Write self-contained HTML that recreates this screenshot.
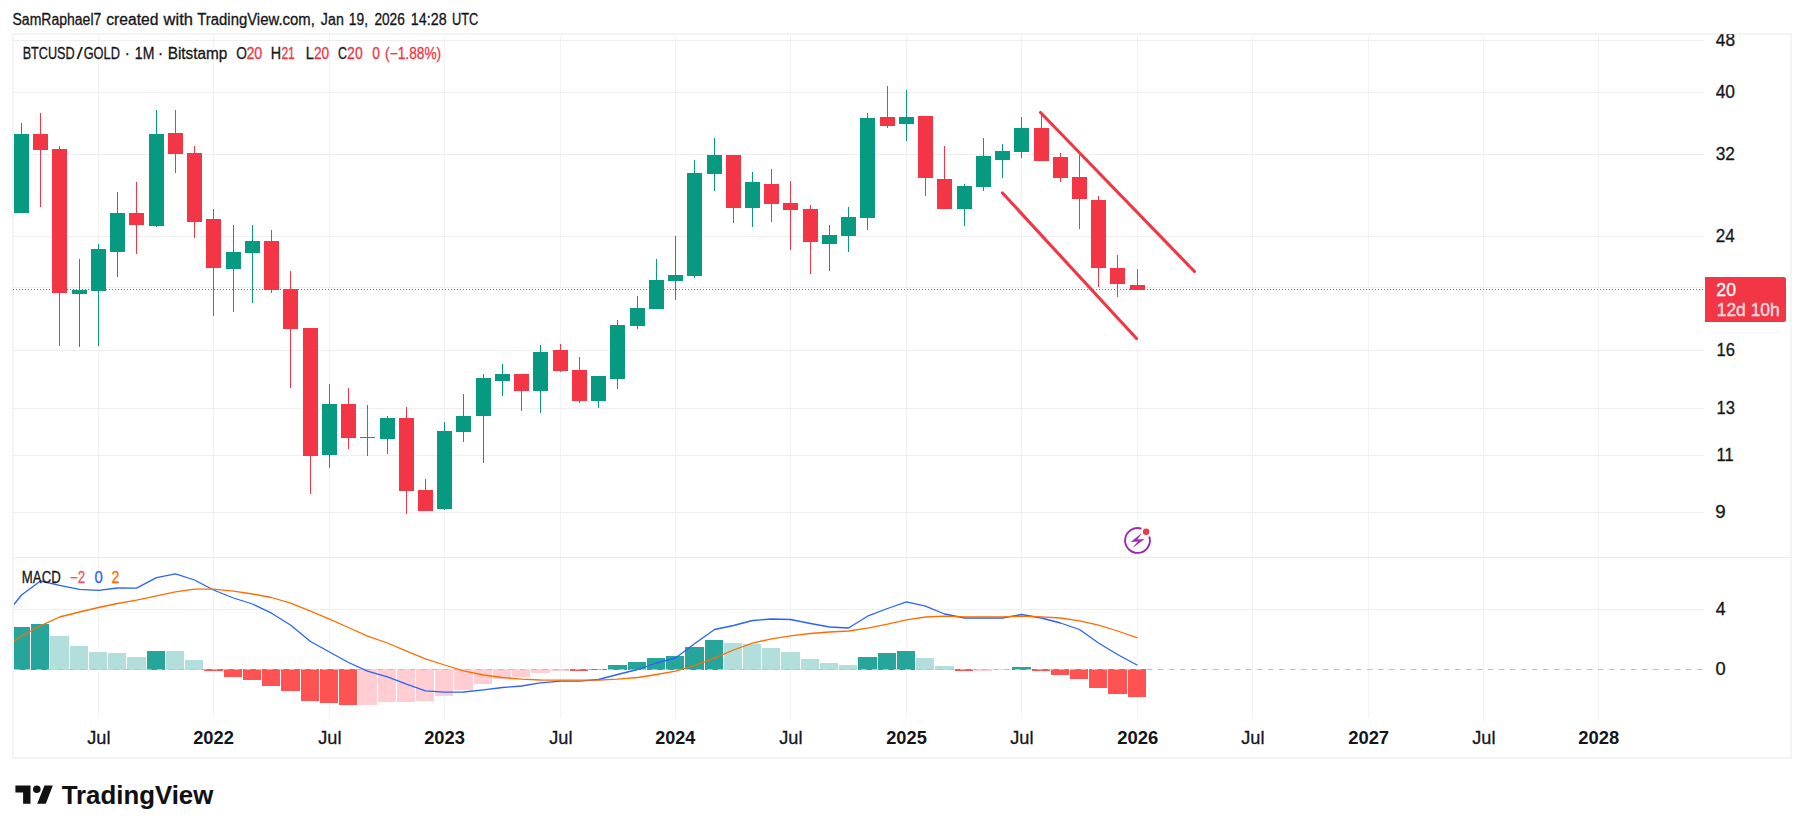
<!DOCTYPE html>
<html lang="en"><head><meta charset="utf-8"><title>BTCUSD/GOLD chart</title>
<style>html,body{margin:0;padding:0;background:#fff}body{width:1804px;height:833px;overflow:hidden}svg{display:block}text{font-family:"Liberation Sans","DejaVu Sans",sans-serif;fill:#14151A;stroke:#14151A;stroke-width:.3px;paint-order:stroke}</style></head><body>
<svg width="1804" height="833" viewBox="0 0 1804 833">
<rect width="1804" height="833" fill="#fff"/>
<g shape-rendering="crispEdges">
<rect x="98" y="35" width="1" height="683" fill="#F3F3F4"/>
<rect x="213" y="35" width="1" height="683" fill="#F3F3F4"/>
<rect x="329" y="35" width="1" height="683" fill="#F3F3F4"/>
<rect x="444" y="35" width="1" height="683" fill="#F3F3F4"/>
<rect x="560" y="35" width="1" height="683" fill="#F3F3F4"/>
<rect x="675" y="35" width="1" height="683" fill="#F3F3F4"/>
<rect x="790" y="35" width="1" height="683" fill="#F3F3F4"/>
<rect x="906" y="35" width="1" height="683" fill="#F3F3F4"/>
<rect x="1021" y="35" width="1" height="683" fill="#F3F3F4"/>
<rect x="1137" y="35" width="1" height="683" fill="#F3F3F4"/>
<rect x="1252" y="35" width="1" height="683" fill="#F3F3F4"/>
<rect x="1368" y="35" width="1" height="683" fill="#F3F3F4"/>
<rect x="1483" y="35" width="1" height="683" fill="#F3F3F4"/>
<rect x="1598" y="35" width="1" height="683" fill="#F3F3F4"/>
<rect x="14" y="40" width="1690" height="1" fill="#EEEEEF"/>
<rect x="14" y="92" width="1690" height="1" fill="#EEEEEF"/>
<rect x="14" y="154" width="1690" height="1" fill="#EEEEEF"/>
<rect x="14" y="236" width="1690" height="1" fill="#EEEEEF"/>
<rect x="14" y="287" width="1690" height="1" fill="#EEEEEF"/>
<rect x="14" y="350" width="1690" height="1" fill="#EEEEEF"/>
<rect x="14" y="408" width="1690" height="1" fill="#EEEEEF"/>
<rect x="14" y="455" width="1690" height="1" fill="#EEEEEF"/>
<rect x="14" y="512" width="1690" height="1" fill="#EEEEEF"/>
<rect x="14" y="609" width="1690" height="1" fill="#EEEEEF"/>
<rect x="14" y="557" width="1777" height="1" fill="#EDEDEE"/>
<rect x="12" y="33" width="1780" height="2" fill="#F4F4F5"/>
<rect x="12" y="757" width="1780" height="2" fill="#F4F4F5"/>
<rect x="12" y="33" width="2" height="726" fill="#F4F4F5"/>
<rect x="1790" y="33" width="2" height="726" fill="#F4F4F5"/>
</g>
<g shape-rendering="crispEdges">
<rect x="14" y="627" width="16" height="43" fill="#26A69A"/>
<rect x="31" y="624" width="18" height="46" fill="#26A69A"/>
<rect x="50" y="636" width="19" height="34" fill="#B2DFDB"/>
<rect x="70" y="646" width="18" height="24" fill="#B2DFDB"/>
<rect x="89" y="652" width="18" height="18" fill="#B2DFDB"/>
<rect x="108" y="653" width="18" height="17" fill="#B2DFDB"/>
<rect x="127" y="657" width="19" height="13" fill="#B2DFDB"/>
<rect x="147" y="651" width="18" height="19" fill="#26A69A"/>
<rect x="166" y="651" width="18" height="19" fill="#B2DFDB"/>
<rect x="185" y="660" width="18" height="10" fill="#B2DFDB"/>
<rect x="204" y="669" width="19" height="2" fill="#FF5252"/>
<rect x="224" y="669" width="18" height="8" fill="#FF5252"/>
<rect x="243" y="669" width="18" height="11" fill="#FF5252"/>
<rect x="262" y="669" width="18" height="17" fill="#FF5252"/>
<rect x="281" y="669" width="19" height="22" fill="#FF5252"/>
<rect x="301" y="669" width="18" height="32" fill="#FF5252"/>
<rect x="320" y="669" width="18" height="34" fill="#FF5252"/>
<rect x="339" y="669" width="18" height="36" fill="#FF5252"/>
<rect x="358" y="669" width="19" height="36" fill="#FFCDD2"/>
<rect x="378" y="669" width="18" height="33" fill="#FFCDD2"/>
<rect x="397" y="669" width="18" height="33" fill="#FFCDD2"/>
<rect x="416" y="669" width="18" height="32" fill="#FFCDD2"/>
<rect x="435" y="669" width="18" height="27" fill="#FFCDD2"/>
<rect x="454" y="669" width="19" height="21" fill="#FFCDD2"/>
<rect x="474" y="669" width="18" height="15" fill="#FFCDD2"/>
<rect x="493" y="669" width="18" height="10.25" fill="#FFCDD2"/>
<rect x="512" y="669" width="18" height="8" fill="#FFCDD2"/>
<rect x="531" y="669" width="19" height="3.5" fill="#FFCDD2"/>
<rect x="551" y="669" width="18" height="2" fill="#FFCDD2"/>
<rect x="570" y="669" width="18" height="2" fill="#FF5252"/>
<rect x="589" y="668.75" width="18" height="1.25" fill="#26A69A"/>
<rect x="608" y="665" width="19" height="5" fill="#26A69A"/>
<rect x="628" y="662" width="18" height="8" fill="#26A69A"/>
<rect x="647" y="658" width="18" height="12" fill="#26A69A"/>
<rect x="666" y="656" width="18" height="14" fill="#26A69A"/>
<rect x="685" y="647" width="19" height="23" fill="#26A69A"/>
<rect x="705" y="640" width="18" height="30" fill="#26A69A"/>
<rect x="724" y="643" width="18" height="27" fill="#B2DFDB"/>
<rect x="743" y="644" width="18" height="26" fill="#B2DFDB"/>
<rect x="762" y="648" width="18" height="22" fill="#B2DFDB"/>
<rect x="781" y="652" width="19" height="18" fill="#B2DFDB"/>
<rect x="801" y="659" width="18" height="11" fill="#B2DFDB"/>
<rect x="820" y="663" width="18" height="7" fill="#B2DFDB"/>
<rect x="839" y="665" width="18" height="5" fill="#B2DFDB"/>
<rect x="858" y="657" width="19" height="13" fill="#26A69A"/>
<rect x="878" y="653" width="18" height="17" fill="#26A69A"/>
<rect x="897" y="651" width="18" height="19" fill="#26A69A"/>
<rect x="916" y="658" width="18" height="12" fill="#B2DFDB"/>
<rect x="935" y="666" width="19" height="4" fill="#B2DFDB"/>
<rect x="955" y="669" width="18" height="2" fill="#FF5252"/>
<rect x="974" y="669" width="18" height="2" fill="#FFCDD2"/>
<rect x="993" y="669" width="18" height="1.3" fill="#FFCDD2"/>
<rect x="1012" y="667" width="19" height="3" fill="#26A69A"/>
<rect x="1032" y="669" width="18" height="2" fill="#FF5252"/>
<rect x="1051" y="669" width="18" height="6" fill="#FF5252"/>
<rect x="1070" y="669" width="18" height="10" fill="#FF5252"/>
<rect x="1089" y="669" width="18" height="19" fill="#FF5252"/>
<rect x="1108" y="669" width="19" height="25" fill="#FF5252"/>
<rect x="1128" y="669" width="18" height="28" fill="#FF5252"/>
</g>
<line x1="14" y1="669.5" x2="1703" y2="669.5" stroke="#BDBEC2" stroke-width="1" stroke-dasharray="5.5 5.5"/>
<clipPath id="pc"><rect x="14" y="558" width="1690" height="160"/></clipPath>
<g clip-path="url(#pc)" fill="none" stroke-width="1.3" stroke-linejoin="round">
<polyline stroke="#2962FF" points="2.3,619.0 21.5,595.0 40.5,581.0 59.5,585.3 79.5,589.4 98.5,590.3 117.5,588.0 136.5,588.2 156.5,577.7 175.5,573.8 194.5,580.0 213.5,590.0 233.5,598.0 252.5,604.0 271.5,613.2 290.5,625.0 310.5,641.5 329.5,652.0 348.5,662.5 367.5,671.2 387.5,676.8 406.5,684.2 425.5,690.8 444.5,692.2 463.5,692.0 483.5,689.8 502.5,687.5 521.5,686.0 540.5,682.8 560.5,681.2 579.5,681.2 598.5,679.5 617.5,674.5 637.5,669.5 656.5,663.0 675.5,658.0 694.5,643.8 714.5,629.5 733.5,625.5 752.5,620.5 771.5,619.0 790.5,619.5 810.5,623.5 829.5,627.0 848.5,628.0 867.5,616.2 887.5,608.5 906.5,601.8 925.5,606.2 944.5,614.0 964.5,618.0 983.5,618.0 1002.5,618.0 1021.5,614.5 1041.5,618.0 1060.5,623.0 1079.5,629.5 1098.5,643.0 1117.5,654.5 1137.5,665.2"/>
<polyline stroke="#FF6D00" points="2.3,648.6 21.5,636.0 40.5,625.8 59.5,617.0 79.5,612.0 98.5,607.5 117.5,603.5 136.5,600.2 156.5,595.8 175.5,591.8 194.5,589.2 213.5,589.2 233.5,591.2 252.5,594.0 271.5,597.5 290.5,603.2 310.5,611.2 329.5,619.2 348.5,627.5 367.5,636.2 387.5,643.0 406.5,651.2 425.5,658.8 444.5,665.0 463.5,670.8 483.5,675.0 502.5,677.5 521.5,679.2 540.5,680.0 560.5,680.2 579.5,680.2 598.5,680.2 617.5,679.2 637.5,677.5 656.5,674.5 675.5,671.2 694.5,665.5 714.5,658.2 733.5,650.0 752.5,643.2 771.5,638.8 790.5,635.8 810.5,633.5 829.5,632.0 848.5,631.0 867.5,628.2 887.5,624.2 906.5,619.8 925.5,617.0 944.5,616.2 964.5,616.8 983.5,616.8 1002.5,616.8 1021.5,616.2 1041.5,616.8 1060.5,618.0 1079.5,620.8 1098.5,625.2 1117.5,631.0 1137.5,637.8"/>
</g>
<g shape-rendering="crispEdges">
<rect x="21" y="123" width="1" height="90" fill="#089981"/>
<rect x="14" y="134" width="15" height="79" fill="#089981"/>
<rect x="40" y="113" width="1" height="94" fill="#F23645"/>
<rect x="33" y="134" width="15" height="16" fill="#F23645"/>
<rect x="59" y="146" width="1" height="200" fill="#F23645"/>
<rect x="52" y="149" width="15" height="144" fill="#F23645"/>
<rect x="79" y="259" width="1" height="88" fill="#089981"/>
<rect x="72" y="290" width="15" height="4" fill="#089981"/>
<rect x="98" y="244" width="1" height="102" fill="#089981"/>
<rect x="91" y="249" width="15" height="42" fill="#089981"/>
<rect x="117" y="192" width="1" height="85" fill="#089981"/>
<rect x="110" y="213" width="15" height="39" fill="#089981"/>
<rect x="136" y="182" width="1" height="72" fill="#F23645"/>
<rect x="129" y="213" width="15" height="12" fill="#F23645"/>
<rect x="156" y="110" width="1" height="117" fill="#089981"/>
<rect x="149" y="134" width="15" height="92" fill="#089981"/>
<rect x="175" y="110" width="1" height="63" fill="#F23645"/>
<rect x="168" y="133" width="15" height="21" fill="#F23645"/>
<rect x="194" y="146" width="1" height="92" fill="#F23645"/>
<rect x="187" y="153" width="15" height="69" fill="#F23645"/>
<rect x="213" y="209" width="1" height="107" fill="#F23645"/>
<rect x="206" y="219" width="15" height="49" fill="#F23645"/>
<rect x="233" y="225" width="1" height="87" fill="#089981"/>
<rect x="226" y="252" width="15" height="17" fill="#089981"/>
<rect x="252" y="225" width="1" height="78" fill="#089981"/>
<rect x="245" y="241" width="15" height="12" fill="#089981"/>
<rect x="271" y="230" width="1" height="63" fill="#F23645"/>
<rect x="264" y="241" width="15" height="49" fill="#F23645"/>
<rect x="290" y="271" width="1" height="117" fill="#F23645"/>
<rect x="283" y="289" width="15" height="40" fill="#F23645"/>
<rect x="310" y="328" width="1" height="166" fill="#F23645"/>
<rect x="303" y="328" width="15" height="128" fill="#F23645"/>
<rect x="329" y="384" width="1" height="84" fill="#089981"/>
<rect x="322" y="404" width="15" height="51" fill="#089981"/>
<rect x="348" y="388" width="1" height="61" fill="#F23645"/>
<rect x="341" y="404" width="15" height="34" fill="#F23645"/>
<rect x="367" y="405" width="1" height="51" fill="#F23645"/>
<rect x="360" y="437" width="15" height="1" fill="#F23645"/>
<rect x="387" y="416" width="1" height="38" fill="#089981"/>
<rect x="380" y="418" width="15" height="21" fill="#089981"/>
<rect x="406" y="407" width="1" height="107" fill="#F23645"/>
<rect x="399" y="418" width="15" height="73" fill="#F23645"/>
<rect x="425" y="479" width="1" height="32" fill="#F23645"/>
<rect x="418" y="490" width="15" height="21" fill="#F23645"/>
<rect x="444" y="422" width="1" height="88" fill="#089981"/>
<rect x="437" y="431" width="15" height="78" fill="#089981"/>
<rect x="463" y="394" width="1" height="48" fill="#089981"/>
<rect x="456" y="416" width="15" height="16" fill="#089981"/>
<rect x="483" y="374" width="1" height="89" fill="#089981"/>
<rect x="476" y="378" width="15" height="38" fill="#089981"/>
<rect x="502" y="364" width="1" height="32" fill="#089981"/>
<rect x="495" y="374" width="15" height="7" fill="#089981"/>
<rect x="521" y="374" width="1" height="37" fill="#F23645"/>
<rect x="514" y="374" width="15" height="17" fill="#F23645"/>
<rect x="540" y="345" width="1" height="68" fill="#089981"/>
<rect x="533" y="352" width="15" height="39" fill="#089981"/>
<rect x="560" y="344" width="1" height="28" fill="#F23645"/>
<rect x="553" y="350" width="15" height="21" fill="#F23645"/>
<rect x="579" y="357" width="1" height="46" fill="#F23645"/>
<rect x="572" y="370" width="15" height="31" fill="#F23645"/>
<rect x="598" y="376" width="1" height="32" fill="#089981"/>
<rect x="591" y="376" width="15" height="25" fill="#089981"/>
<rect x="617" y="320" width="1" height="69" fill="#089981"/>
<rect x="610" y="325" width="15" height="54" fill="#089981"/>
<rect x="637" y="296" width="1" height="33" fill="#089981"/>
<rect x="630" y="308" width="15" height="18" fill="#089981"/>
<rect x="656" y="259" width="1" height="50" fill="#089981"/>
<rect x="649" y="280" width="15" height="29" fill="#089981"/>
<rect x="675" y="236" width="1" height="64" fill="#089981"/>
<rect x="668" y="275" width="15" height="6" fill="#089981"/>
<rect x="694" y="160" width="1" height="118" fill="#089981"/>
<rect x="687" y="173" width="15" height="103" fill="#089981"/>
<rect x="714" y="138" width="1" height="53" fill="#089981"/>
<rect x="707" y="155" width="15" height="19" fill="#089981"/>
<rect x="733" y="155" width="1" height="68" fill="#F23645"/>
<rect x="726" y="155" width="15" height="53" fill="#F23645"/>
<rect x="752" y="172" width="1" height="55" fill="#089981"/>
<rect x="745" y="182" width="15" height="26" fill="#089981"/>
<rect x="771" y="169" width="1" height="53" fill="#F23645"/>
<rect x="764" y="184" width="15" height="20" fill="#F23645"/>
<rect x="790" y="181" width="1" height="69" fill="#F23645"/>
<rect x="783" y="203" width="15" height="7" fill="#F23645"/>
<rect x="810" y="205" width="1" height="69" fill="#F23645"/>
<rect x="803" y="209" width="15" height="33" fill="#F23645"/>
<rect x="829" y="225" width="1" height="46" fill="#089981"/>
<rect x="822" y="235" width="15" height="9" fill="#089981"/>
<rect x="848" y="207" width="1" height="45" fill="#089981"/>
<rect x="841" y="217" width="15" height="19" fill="#089981"/>
<rect x="867" y="113" width="1" height="117" fill="#089981"/>
<rect x="860" y="118" width="15" height="100" fill="#089981"/>
<rect x="887" y="86" width="1" height="42" fill="#F23645"/>
<rect x="880" y="117" width="15" height="9" fill="#F23645"/>
<rect x="906" y="90" width="1" height="51" fill="#089981"/>
<rect x="899" y="117" width="15" height="7" fill="#089981"/>
<rect x="925" y="116" width="1" height="80" fill="#F23645"/>
<rect x="918" y="116" width="15" height="62" fill="#F23645"/>
<rect x="944" y="146" width="1" height="63" fill="#F23645"/>
<rect x="937" y="179" width="15" height="30" fill="#F23645"/>
<rect x="964" y="184" width="1" height="42" fill="#089981"/>
<rect x="957" y="186" width="15" height="23" fill="#089981"/>
<rect x="983" y="138" width="1" height="53" fill="#089981"/>
<rect x="976" y="156" width="15" height="31" fill="#089981"/>
<rect x="1002" y="144" width="1" height="34" fill="#089981"/>
<rect x="995" y="151" width="15" height="9" fill="#089981"/>
<rect x="1021" y="117" width="1" height="41" fill="#089981"/>
<rect x="1014" y="128" width="15" height="24" fill="#089981"/>
<rect x="1041" y="112" width="1" height="49" fill="#F23645"/>
<rect x="1034" y="128" width="15" height="33" fill="#F23645"/>
<rect x="1060" y="153" width="1" height="29" fill="#F23645"/>
<rect x="1053" y="157" width="15" height="21" fill="#F23645"/>
<rect x="1079" y="155" width="1" height="74" fill="#F23645"/>
<rect x="1072" y="177" width="15" height="22" fill="#F23645"/>
<rect x="1098" y="196" width="1" height="91" fill="#F23645"/>
<rect x="1091" y="200" width="15" height="68" fill="#F23645"/>
<rect x="1117" y="255" width="1" height="42" fill="#F23645"/>
<rect x="1110" y="268" width="15" height="16" fill="#F23645"/>
<rect x="1137" y="269" width="1" height="21" fill="#F23645"/>
<rect x="1130" y="285" width="15" height="5" fill="#F23645"/>
</g>
<line x1="13" y1="289.5" x2="1705" y2="289.5" stroke="#F23645" stroke-width="1" stroke-dasharray="1 2" shape-rendering="crispEdges"/>
<g stroke="#F23645" stroke-width="3.1" stroke-linecap="round">
<line x1="1040.5" y1="112.5" x2="1194.5" y2="271.5"/>
<line x1="1002.5" y1="193" x2="1136.5" y2="338.5"/>
</g>
<g transform="translate(1137.5 540.5)">
<path d="M11.76 -3.93A12.4 12.4 0 1 1 3.93 -11.76" fill="none" stroke="#9C27B0" stroke-width="1.9"/>
<path d="M3.54 -6.60 L-6.23 1.16 L0.74 0.63 L-4.01 6.50 L6.44 -1.16 L-0.53 -0.63 Z" fill="#9C27B0" stroke="#9C27B0" stroke-width="0.45" stroke-linejoin="round"/>
<circle cx="8.6" cy="-8.8" r="3.2" fill="#F23645"/>
</g>
<path d="M1705 277H1784a2 2 0 0 1 2 2V320a2 2 0 0 1-2 2H1705Z" fill="#F23645"/>
<text x="1716.37" y="295.90" font-size="18.5" textLength="19.67" lengthAdjust="spacingAndGlyphs" style="fill:#fff;stroke:#fff;">20</text>
<text x="1716.71" y="316.20" font-size="18.5" textLength="63.02" lengthAdjust="spacingAndGlyphs" style="fill:#fff;stroke:#fff;" opacity="0.85">12d 10h</text>
<text x="1715.77" y="46.00" font-size="18.5" textLength="19.24" lengthAdjust="spacingAndGlyphs">48</text>
<text x="1715.65" y="98.00" font-size="18.5" textLength="19.33" lengthAdjust="spacingAndGlyphs">40</text>
<text x="1715.68" y="160.00" font-size="18.5" textLength="19.27" lengthAdjust="spacingAndGlyphs">32</text>
<text x="1715.77" y="242.00" font-size="18.5" textLength="18.95" lengthAdjust="spacingAndGlyphs">24</text>
<text x="1716.47" y="356.00" font-size="18.5" textLength="18.45" lengthAdjust="spacingAndGlyphs">16</text>
<text x="1716.47" y="414.00" font-size="18.5" textLength="18.44" lengthAdjust="spacingAndGlyphs">13</text>
<text x="1716.48" y="461.00" font-size="18.5" textLength="17.12" lengthAdjust="spacingAndGlyphs">11</text>
<text x="1715.28" y="518.00" font-size="18.5" textLength="10.41" lengthAdjust="spacingAndGlyphs">9</text>
<text x="1715.64" y="615.00" font-size="18.5" textLength="9.88" lengthAdjust="spacingAndGlyphs">4</text>
<text x="1715.40" y="675.00" font-size="18.5" textLength="10.20" lengthAdjust="spacingAndGlyphs">0</text>
<rect x="1700" y="20" width="90" height="13" fill="#fff"/>
<rect x="1700" y="33" width="92" height="1.2" fill="#F4F4F5"/>
<text x="87.24" y="744.10" font-size="18.5" textLength="23.23" lengthAdjust="spacingAndGlyphs">Jul</text>
<text x="193.15" y="744.10" font-size="18.5" textLength="40.73" lengthAdjust="spacingAndGlyphs" style="stroke-width:0px;" font-weight="bold">2022</text>
<text x="318.24" y="744.10" font-size="18.5" textLength="23.22" lengthAdjust="spacingAndGlyphs">Jul</text>
<text x="424.15" y="744.10" font-size="18.5" textLength="40.80" lengthAdjust="spacingAndGlyphs" style="stroke-width:0px;" font-weight="bold">2023</text>
<text x="549.24" y="744.10" font-size="18.5" textLength="23.23" lengthAdjust="spacingAndGlyphs">Jul</text>
<text x="655.17" y="744.10" font-size="18.5" textLength="40.06" lengthAdjust="spacingAndGlyphs" style="stroke-width:0px;" font-weight="bold">2024</text>
<text x="779.24" y="744.10" font-size="18.5" textLength="23.23" lengthAdjust="spacingAndGlyphs">Jul</text>
<text x="886.15" y="744.10" font-size="18.5" textLength="40.65" lengthAdjust="spacingAndGlyphs" style="stroke-width:0px;" font-weight="bold">2025</text>
<text x="1010.24" y="744.10" font-size="18.5" textLength="23.23" lengthAdjust="spacingAndGlyphs">Jul</text>
<text x="1117.15" y="744.10" font-size="18.5" textLength="41.12" lengthAdjust="spacingAndGlyphs" style="stroke-width:0px;" font-weight="bold">2026</text>
<text x="1241.24" y="744.10" font-size="18.5" textLength="23.23" lengthAdjust="spacingAndGlyphs">Jul</text>
<text x="1348.15" y="744.10" font-size="18.5" textLength="40.97" lengthAdjust="spacingAndGlyphs" style="stroke-width:0px;" font-weight="bold">2027</text>
<text x="1472.24" y="744.10" font-size="18.5" textLength="23.23" lengthAdjust="spacingAndGlyphs">Jul</text>
<text x="1578.16" y="744.10" font-size="18.5" textLength="41.01" lengthAdjust="spacingAndGlyphs" style="stroke-width:0px;" font-weight="bold">2028</text>
<text x="12.50" y="24.80" font-size="15.6" textLength="88.81" lengthAdjust="spacingAndGlyphs">SamRaphael7</text>
<text x="106.28" y="24.80" font-size="15.6" textLength="52.12" lengthAdjust="spacingAndGlyphs">created</text>
<text x="163.63" y="24.80" font-size="15.6" textLength="29.27" lengthAdjust="spacingAndGlyphs">with</text>
<text x="197.28" y="24.80" font-size="15.6" textLength="117.53" lengthAdjust="spacingAndGlyphs">TradingView.com,</text>
<text x="320.86" y="24.80" font-size="15.6" textLength="22.95" lengthAdjust="spacingAndGlyphs">Jan</text>
<text x="348.79" y="24.80" font-size="15.6" textLength="19.20" lengthAdjust="spacingAndGlyphs">19,</text>
<text x="374.40" y="24.80" font-size="15.6" textLength="30.44" lengthAdjust="spacingAndGlyphs">2026</text>
<text x="410.85" y="24.80" font-size="15.6" textLength="35.74" lengthAdjust="spacingAndGlyphs">14:28</text>
<text x="452.01" y="24.80" font-size="15.6" textLength="26.39" lengthAdjust="spacingAndGlyphs">UTC</text>
<text x="22.64" y="59.00" font-size="15.8" textLength="52.01" lengthAdjust="spacingAndGlyphs">BTCUSD</text>
<text x="76.49" y="59.00" font-size="15.8" textLength="6.39" lengthAdjust="spacingAndGlyphs" style="stroke-width:0px;">/</text>
<text x="83.67" y="59.00" font-size="15.8" textLength="36.20" lengthAdjust="spacingAndGlyphs">GOLD</text>
<text x="124.81" y="59.00" font-size="15.8" textLength="5.01" lengthAdjust="spacingAndGlyphs">·</text>
<text x="134.85" y="59.00" font-size="15.8" textLength="19.53" lengthAdjust="spacingAndGlyphs">1M</text>
<text x="157.99" y="59.00" font-size="15.8" textLength="5.16" lengthAdjust="spacingAndGlyphs">·</text>
<text x="167.73" y="59.00" font-size="15.8" textLength="59.65" lengthAdjust="spacingAndGlyphs">Bitstamp</text>
<text x="236.19" y="59.00" font-size="15.8" textLength="10.66" lengthAdjust="spacingAndGlyphs">O</text>
<text x="246.40" y="59.00" font-size="15.8" textLength="15.94" lengthAdjust="spacingAndGlyphs" style="fill:#F23645;stroke:#F23645;">20</text>
<text x="270.79" y="59.00" font-size="15.8" textLength="10.33" lengthAdjust="spacingAndGlyphs">H</text>
<text x="281.38" y="59.00" font-size="15.8" textLength="13.47" lengthAdjust="spacingAndGlyphs" style="fill:#F23645;stroke:#F23645;">21</text>
<text x="305.79" y="59.00" font-size="15.8" textLength="8.02" lengthAdjust="spacingAndGlyphs">L</text>
<text x="313.95" y="59.00" font-size="15.8" textLength="15.19" lengthAdjust="spacingAndGlyphs" style="fill:#F23645;stroke:#F23645;">20</text>
<text x="338.12" y="59.00" font-size="15.8" textLength="8.94" lengthAdjust="spacingAndGlyphs">C</text>
<text x="347.12" y="59.00" font-size="15.8" textLength="15.54" lengthAdjust="spacingAndGlyphs" style="fill:#F23645;stroke:#F23645;">20</text>
<text x="372.16" y="59.00" font-size="15.8" textLength="7.70" lengthAdjust="spacingAndGlyphs" style="fill:#F23645;stroke:#F23645;">0</text>
<text x="385.12" y="59.00" font-size="15.8" textLength="56.05" lengthAdjust="spacingAndGlyphs" style="fill:#F23645;stroke:#F23645;">(−1.88%)</text>
<text x="21.85" y="582.60" font-size="15.9" textLength="38.84" lengthAdjust="spacingAndGlyphs">MACD</text>
<text x="69.92" y="582.60" font-size="15.9" textLength="15.10" lengthAdjust="spacingAndGlyphs" style="fill:#F7525F;stroke:#F7525F;">−2</text>
<text x="94.52" y="582.60" font-size="15.9" textLength="8.27" lengthAdjust="spacingAndGlyphs" style="fill:#2962FF;stroke:#2962FF;">0</text>
<text x="111.40" y="582.60" font-size="15.9" textLength="7.90" lengthAdjust="spacingAndGlyphs" style="fill:#FF6D00;stroke:#FF6D00;">2</text>
<text x="61.76" y="803.80" font-size="26.6" textLength="151.46" lengthAdjust="spacingAndGlyphs" style="fill:#111;stroke:#111;stroke-width:0.1px;" font-weight="bold">TradingView</text>
<g fill="#111"><path d="M15.4 785.4H30.5V803.8H23.1V792.5H15.4ZM44.5 785.4H52.8L45.8 803.8H37.2Z"/><circle cx="36.8" cy="789.2" r="3.8"/></g>
</svg></body></html>
